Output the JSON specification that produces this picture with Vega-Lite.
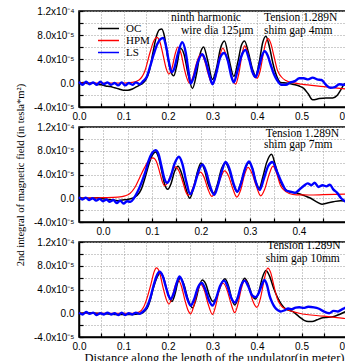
{
"$schema":"https://vega.github.io/schema/vega-lite/v6.json",
"background":"white",
"padding":{"left":14,"top":5,"right":0,"bottom":0},
"config":{
 "view":{"stroke":"black","strokeWidth":1.5},
 "concat":{"spacing":20},
 "axis":{"domainColor":"black","domainWidth":1.5,"tickColor":"black","tickWidth":1.2,"tickSize":-4,"grid":true,"gridColor":"#9a9a9a","gridDash":[1,2],"gridWidth":1,"labelFont":"Liberation Sans","labelFontSize":10,"labelColor":"black","labelFlush":false,"labelOverlap":false,"titleFont":"Liberation Serif","titleFontWeight":"normal","titleColor":"black"}
},
"bounds":"flush",
"resolve":{"legend":{"color":"independent"}},
"data":{"values":[
{"panel":1,"series":"OC","x":0,"y":0},{"panel":1,"series":"OC","x":0.01,"y":0.1e-5},{"panel":1,"series":"OC","x":0.02,"y":-0.1e-5},{"panel":1,"series":"OC","x":0.03,"y":0},{"panel":1,"series":"OC","x":0.04,"y":-0.2e-5},{"panel":1,"series":"OC","x":0.05,"y":-0.3e-5},{"panel":1,"series":"OC","x":0.06,"y":-0.5e-5},{"panel":1,"series":"OC","x":0.07,"y":-0.6e-5},{"panel":1,"series":"OC","x":0.08,"y":-0.8e-5},{"panel":1,"series":"OC","x":0.09,"y":-1.0e-5},{"panel":1,"series":"OC","x":0.1,"y":-1.2e-5},{"panel":1,"series":"OC","x":0.11,"y":-1.2e-5},{"panel":1,"series":"OC","x":0.12,"y":-1.0e-5},{"panel":1,"series":"OC","x":0.13,"y":-0.6e-5},{"panel":1,"series":"OC","x":0.14,"y":-0.2e-5},{"panel":1,"series":"OC","x":0.15,"y":0.5e-5},{"panel":1,"series":"OC","x":0.158,"y":2.0e-5},{"panel":1,"series":"OC","x":0.166,"y":5.0e-5},{"panel":1,"series":"OC","x":0.174,"y":7.8e-5},{"panel":1,"series":"OC","x":0.181,"y":8.9e-5},{"panel":1,"series":"OC","x":0.186,"y":9.0e-5},{"panel":1,"series":"OC","x":0.192,"y":7.8e-5},{"panel":1,"series":"OC","x":0.199,"y":4.5e-5},{"panel":1,"series":"OC","x":0.206,"y":2.0e-5},{"panel":1,"series":"OC","x":0.213,"y":1.2e-5},{"panel":1,"series":"OC","x":0.22,"y":3.0e-5},{"panel":1,"series":"OC","x":0.228,"y":5.8e-5},{"panel":1,"series":"OC","x":0.236,"y":4.8e-5},{"panel":1,"series":"OC","x":0.245,"y":1.5e-5},{"panel":1,"series":"OC","x":0.255,"y":-0.9e-5},{"panel":1,"series":"OC","x":0.264,"y":1.5e-5},{"panel":1,"series":"OC","x":0.272,"y":4.8e-5},{"panel":1,"series":"OC","x":0.28,"y":6.0e-5},{"panel":1,"series":"OC","x":0.289,"y":3.8e-5},{"panel":1,"series":"OC","x":0.3,"y":0.6e-5},{"panel":1,"series":"OC","x":0.309,"y":2.5e-5},{"panel":1,"series":"OC","x":0.318,"y":5.8e-5},{"panel":1,"series":"OC","x":0.327,"y":7.0e-5},{"panel":1,"series":"OC","x":0.337,"y":4.0e-5},{"panel":1,"series":"OC","x":0.348,"y":1.1e-5},{"panel":1,"series":"OC","x":0.357,"y":3.5e-5},{"panel":1,"series":"OC","x":0.365,"y":6.3e-5},{"panel":1,"series":"OC","x":0.372,"y":7.0e-5},{"panel":1,"series":"OC","x":0.381,"y":5.0e-5},{"panel":1,"series":"OC","x":0.39,"y":2.3e-5},{"panel":1,"series":"OC","x":0.397,"y":1.2e-5},{"panel":1,"series":"OC","x":0.405,"y":3.5e-5},{"panel":1,"series":"OC","x":0.413,"y":6.8e-5},{"panel":1,"series":"OC","x":0.42,"y":7.8e-5},{"panel":1,"series":"OC","x":0.428,"y":6.0e-5},{"panel":1,"series":"OC","x":0.436,"y":3.2e-5},{"panel":1,"series":"OC","x":0.444,"y":1.2e-5},{"panel":1,"series":"OC","x":0.453,"y":0.1e-5},{"panel":1,"series":"OC","x":0.465,"y":0},{"panel":1,"series":"OC","x":0.48,"y":-0.2e-5},{"panel":1,"series":"OC","x":0.495,"y":-0.5e-5},{"panel":1,"series":"OC","x":0.505,"y":-0.9e-5},{"panel":1,"series":"OC","x":0.515,"y":-1.8e-5},{"panel":1,"series":"OC","x":0.525,"y":-2.8e-5},{"panel":1,"series":"OC","x":0.54,"y":-2.6e-5},{"panel":1,"series":"OC","x":0.555,"y":-2.5e-5},{"panel":1,"series":"OC","x":0.57,"y":-2.5e-5},{"panel":1,"series":"OC","x":0.58,"y":-2.1e-5},{"panel":1,"series":"OC","x":0.588,"y":-1.2e-5},{"panel":1,"series":"OC","x":0.595,"y":-0.3e-5},{"panel":1,"series":"OC","x":0.6,"y":0},
{"panel":1,"series":"HPM","x":0,"y":0},{"panel":1,"series":"HPM","x":0.05,"y":0},{"panel":1,"series":"HPM","x":0.1,"y":0},{"panel":1,"series":"HPM","x":0.12,"y":0.1e-5},{"panel":1,"series":"HPM","x":0.135,"y":0.5e-5},{"panel":1,"series":"HPM","x":0.148,"y":2.0e-5},{"panel":1,"series":"HPM","x":0.16,"y":5.2e-5},{"panel":1,"series":"HPM","x":0.168,"y":7.0e-5},{"panel":1,"series":"HPM","x":0.175,"y":7.6e-5},{"panel":1,"series":"HPM","x":0.182,"y":6.8e-5},{"panel":1,"series":"HPM","x":0.19,"y":4.3e-5},{"panel":1,"series":"HPM","x":0.196,"y":2.4e-5},{"panel":1,"series":"HPM","x":0.202,"y":1.5e-5},{"panel":1,"series":"HPM","x":0.209,"y":2.5e-5},{"panel":1,"series":"HPM","x":0.216,"y":4.8e-5},{"panel":1,"series":"HPM","x":0.222,"y":6.0e-5},{"panel":1,"series":"HPM","x":0.229,"y":5.0e-5},{"panel":1,"series":"HPM","x":0.236,"y":2.6e-5},{"panel":1,"series":"HPM","x":0.242,"y":0.9e-5},{"panel":1,"series":"HPM","x":0.248,"y":0},{"panel":1,"series":"HPM","x":0.255,"y":0.8e-5},{"panel":1,"series":"HPM","x":0.263,"y":3.0e-5},{"panel":1,"series":"HPM","x":0.27,"y":4.5e-5},{"panel":1,"series":"HPM","x":0.275,"y":4.8e-5},{"panel":1,"series":"HPM","x":0.282,"y":3.8e-5},{"panel":1,"series":"HPM","x":0.29,"y":1.6e-5},{"panel":1,"series":"HPM","x":0.3,"y":-0.2e-5},{"panel":1,"series":"HPM","x":0.307,"y":1.0e-5},{"panel":1,"series":"HPM","x":0.315,"y":4.0e-5},{"panel":1,"series":"HPM","x":0.323,"y":5.8e-5},{"panel":1,"series":"HPM","x":0.33,"y":4.8e-5},{"panel":1,"series":"HPM","x":0.338,"y":2.5e-5},{"panel":1,"series":"HPM","x":0.345,"y":0.6e-5},{"panel":1,"series":"HPM","x":0.352,"y":-0.2e-5},{"panel":1,"series":"HPM","x":0.359,"y":1.5e-5},{"panel":1,"series":"HPM","x":0.367,"y":5.0e-5},{"panel":1,"series":"HPM","x":0.372,"y":6.2e-5},{"panel":1,"series":"HPM","x":0.378,"y":5.3e-5},{"panel":1,"series":"HPM","x":0.386,"y":2.8e-5},{"panel":1,"series":"HPM","x":0.393,"y":1.2e-5},{"panel":1,"series":"HPM","x":0.4,"y":0.8e-5},{"panel":1,"series":"HPM","x":0.407,"y":2.0e-5},{"panel":1,"series":"HPM","x":0.414,"y":4.8e-5},{"panel":1,"series":"HPM","x":0.42,"y":6.8e-5},{"panel":1,"series":"HPM","x":0.425,"y":7.4e-5},{"panel":1,"series":"HPM","x":0.431,"y":6.6e-5},{"panel":1,"series":"HPM","x":0.438,"y":4.5e-5},{"panel":1,"series":"HPM","x":0.446,"y":2.1e-5},{"panel":1,"series":"HPM","x":0.455,"y":1.0e-5},{"panel":1,"series":"HPM","x":0.465,"y":0.4e-5},{"panel":1,"series":"HPM","x":0.48,"y":0.05e-5},{"panel":1,"series":"HPM","x":0.5,"y":-0.2e-5},{"panel":1,"series":"HPM","x":0.55,"y":-0.6e-5},{"panel":1,"series":"HPM","x":0.6,"y":-1.0e-5},
{"panel":1,"series":"LS","x":0,"y":0.2e-5},{"panel":1,"series":"LS","x":0.008,"y":-0.3e-5},{"panel":1,"series":"LS","x":0.016,"y":0.2e-5},{"panel":1,"series":"LS","x":0.024,"y":-0.2e-5},{"panel":1,"series":"LS","x":0.032,"y":0.1e-5},{"panel":1,"series":"LS","x":0.04,"y":-0.3e-5},{"panel":1,"series":"LS","x":0.048,"y":0.2e-5},{"panel":1,"series":"LS","x":0.056,"y":-0.2e-5},{"panel":1,"series":"LS","x":0.064,"y":0.1e-5},{"panel":1,"series":"LS","x":0.072,"y":-0.3e-5},{"panel":1,"series":"LS","x":0.08,"y":0},{"panel":1,"series":"LS","x":0.088,"y":-0.4e-5},{"panel":1,"series":"LS","x":0.096,"y":0.1e-5},{"panel":1,"series":"LS","x":0.104,"y":-0.4e-5},{"panel":1,"series":"LS","x":0.112,"y":0},{"panel":1,"series":"LS","x":0.12,"y":-0.3e-5},{"panel":1,"series":"LS","x":0.128,"y":0.1e-5},{"panel":1,"series":"LS","x":0.136,"y":-0.2e-5},{"panel":1,"series":"LS","x":0.144,"y":0.3e-5},{"panel":1,"series":"LS","x":0.152,"y":1.0e-5},{"panel":1,"series":"LS","x":0.16,"y":2.8e-5},{"panel":1,"series":"LS","x":0.168,"y":4.8e-5},{"panel":1,"series":"LS","x":0.176,"y":6.5e-5},{"panel":1,"series":"LS","x":0.183,"y":7.3e-5},{"panel":1,"series":"LS","x":0.189,"y":7.5e-5},{"panel":1,"series":"LS","x":0.196,"y":6.0e-5},{"panel":1,"series":"LS","x":0.202,"y":3.5e-5},{"panel":1,"series":"LS","x":0.208,"y":1.8e-5},{"panel":1,"series":"LS","x":0.214,"y":2.4e-5},{"panel":1,"series":"LS","x":0.222,"y":4.8e-5},{"panel":1,"series":"LS","x":0.232,"y":6.8e-5},{"panel":1,"series":"LS","x":0.24,"y":5.0e-5},{"panel":1,"series":"LS","x":0.246,"y":2.0e-5},{"panel":1,"series":"LS","x":0.251,"y":-0.1e-5},{"panel":1,"series":"LS","x":0.258,"y":1.0e-5},{"panel":1,"series":"LS","x":0.267,"y":3.5e-5},{"panel":1,"series":"LS","x":0.277,"y":4.8e-5},{"panel":1,"series":"LS","x":0.286,"y":3.3e-5},{"panel":1,"series":"LS","x":0.294,"y":1.0e-5},{"panel":1,"series":"LS","x":0.3,"y":-0.2e-5},{"panel":1,"series":"LS","x":0.308,"y":1.5e-5},{"panel":1,"series":"LS","x":0.317,"y":4.2e-5},{"panel":1,"series":"LS","x":0.326,"y":5.0e-5},{"panel":1,"series":"LS","x":0.335,"y":3.6e-5},{"panel":1,"series":"LS","x":0.342,"y":1.2e-5},{"panel":1,"series":"LS","x":0.348,"y":0.1e-5},{"panel":1,"series":"LS","x":0.356,"y":2.0e-5},{"panel":1,"series":"LS","x":0.365,"y":4.5e-5},{"panel":1,"series":"LS","x":0.374,"y":5.5e-5},{"panel":1,"series":"LS","x":0.382,"y":4.0e-5},{"panel":1,"series":"LS","x":0.39,"y":1.8e-5},{"panel":1,"series":"LS","x":0.397,"y":1.0e-5},{"panel":1,"series":"LS","x":0.404,"y":2.5e-5},{"panel":1,"series":"LS","x":0.411,"y":4.5e-5},{"panel":1,"series":"LS","x":0.417,"y":5.3e-5},{"panel":1,"series":"LS","x":0.424,"y":4.6e-5},{"panel":1,"series":"LS","x":0.431,"y":3.0e-5},{"panel":1,"series":"LS","x":0.438,"y":1.5e-5},{"panel":1,"series":"LS","x":0.445,"y":0.5e-5},{"panel":1,"series":"LS","x":0.455,"y":-0.3e-5},{"panel":1,"series":"LS","x":0.465,"y":-0.3e-5},{"panel":1,"series":"LS","x":0.475,"y":0.1e-5},{"panel":1,"series":"LS","x":0.485,"y":0.3e-5},{"panel":1,"series":"LS","x":0.495,"y":0.8e-5},{"panel":1,"series":"LS","x":0.505,"y":0.8e-5},{"panel":1,"series":"LS","x":0.515,"y":0.6e-5},{"panel":1,"series":"LS","x":0.525,"y":0.9e-5},{"panel":1,"series":"LS","x":0.535,"y":0.6e-5},{"panel":1,"series":"LS","x":0.545,"y":0.5e-5},{"panel":1,"series":"LS","x":0.555,"y":-0.3e-5},{"panel":1,"series":"LS","x":0.565,"y":-0.8e-5},{"panel":1,"series":"LS","x":0.575,"y":-0.7e-5},{"panel":1,"series":"LS","x":0.585,"y":-0.2e-5},{"panel":1,"series":"LS","x":0.595,"y":-0.3e-5},{"panel":1,"series":"LS","x":0.6,"y":-0.2e-5},
{"panel":2,"series":"OC","x":-0.049,"y":0.1e-5},{"panel":2,"series":"OC","x":-0.03,"y":0},{"panel":2,"series":"OC","x":-0.01,"y":0.1e-5},{"panel":2,"series":"OC","x":0,"y":-0.1e-5},{"panel":2,"series":"OC","x":0.01,"y":-0.2e-5},{"panel":2,"series":"OC","x":0.02,"y":-0.3e-5},{"panel":2,"series":"OC","x":0.03,"y":-0.4e-5},{"panel":2,"series":"OC","x":0.04,"y":-0.3e-5},{"panel":2,"series":"OC","x":0.05,"y":-0.2e-5},{"panel":2,"series":"OC","x":0.06,"y":0},{"panel":2,"series":"OC","x":0.07,"y":0.5e-5},{"panel":2,"series":"OC","x":0.078,"y":1.5e-5},{"panel":2,"series":"OC","x":0.086,"y":3.5e-5},{"panel":2,"series":"OC","x":0.094,"y":5.8e-5},{"panel":2,"series":"OC","x":0.101,"y":7.3e-5},{"panel":2,"series":"OC","x":0.107,"y":7.8e-5},{"panel":2,"series":"OC","x":0.113,"y":7.0e-5},{"panel":2,"series":"OC","x":0.12,"y":4.5e-5},{"panel":2,"series":"OC","x":0.126,"y":2.3e-5},{"panel":2,"series":"OC","x":0.132,"y":1.5e-5},{"panel":2,"series":"OC","x":0.139,"y":2.5e-5},{"panel":2,"series":"OC","x":0.146,"y":4.5e-5},{"panel":2,"series":"OC","x":0.153,"y":5.4e-5},{"panel":2,"series":"OC","x":0.16,"y":4.3e-5},{"panel":2,"series":"OC","x":0.168,"y":2.0e-5},{"panel":2,"series":"OC","x":0.177,"y":0},{"panel":2,"series":"OC","x":0.185,"y":1.8e-5},{"panel":2,"series":"OC","x":0.193,"y":4.5e-5},{"panel":2,"series":"OC","x":0.2,"y":5.95e-5},{"panel":2,"series":"OC","x":0.207,"y":4.8e-5},{"panel":2,"series":"OC","x":0.215,"y":2.3e-5},{"panel":2,"series":"OC","x":0.226,"y":0.85e-5},{"panel":2,"series":"OC","x":0.234,"y":2.5e-5},{"panel":2,"series":"OC","x":0.242,"y":5.0e-5},{"panel":2,"series":"OC","x":0.25,"y":5.95e-5},{"panel":2,"series":"OC","x":0.258,"y":4.6e-5},{"panel":2,"series":"OC","x":0.266,"y":2.3e-5},{"panel":2,"series":"OC","x":0.274,"y":1.1e-5},{"panel":2,"series":"OC","x":0.282,"y":2.8e-5},{"panel":2,"series":"OC","x":0.29,"y":5.0e-5},{"panel":2,"series":"OC","x":0.298,"y":6.0e-5},{"panel":2,"series":"OC","x":0.305,"y":5.0e-5},{"panel":2,"series":"OC","x":0.312,"y":2.8e-5},{"panel":2,"series":"OC","x":0.319,"y":1.7e-5},{"panel":2,"series":"OC","x":0.326,"y":3.5e-5},{"panel":2,"series":"OC","x":0.334,"y":6.0e-5},{"panel":2,"series":"OC","x":0.344,"y":7.4e-5},{"panel":2,"series":"OC","x":0.352,"y":5.5e-5},{"panel":2,"series":"OC","x":0.362,"y":2.8e-5},{"panel":2,"series":"OC","x":0.372,"y":1.5e-5},{"panel":2,"series":"OC","x":0.38,"y":1.1e-5},{"panel":2,"series":"OC","x":0.397,"y":0.85e-5},{"panel":2,"series":"OC","x":0.412,"y":0.4e-5},{"panel":2,"series":"OC","x":0.424,"y":0},{"panel":2,"series":"OC","x":0.436,"y":-0.6e-5},{"panel":2,"series":"OC","x":0.447,"y":-1.0e-5},{"panel":2,"series":"OC","x":0.458,"y":-0.8e-5},{"panel":2,"series":"OC","x":0.47,"y":-0.6e-5},{"panel":2,"series":"OC","x":0.485,"y":-0.4e-5},{"panel":2,"series":"OC","x":0.496,"y":-0.5e-5},
{"panel":2,"series":"HPM","x":-0.049,"y":0},{"panel":2,"series":"HPM","x":0,"y":0.1e-5},{"panel":2,"series":"HPM","x":0.03,"y":0.2e-5},{"panel":2,"series":"HPM","x":0.045,"y":0.4e-5},{"panel":2,"series":"HPM","x":0.055,"y":0.8e-5},{"panel":2,"series":"HPM","x":0.065,"y":1.8e-5},{"panel":2,"series":"HPM","x":0.075,"y":3.5e-5},{"panel":2,"series":"HPM","x":0.085,"y":5.2e-5},{"panel":2,"series":"HPM","x":0.094,"y":6.4e-5},{"panel":2,"series":"HPM","x":0.102,"y":6.8e-5},{"panel":2,"series":"HPM","x":0.109,"y":6.2e-5},{"panel":2,"series":"HPM","x":0.116,"y":4.3e-5},{"panel":2,"series":"HPM","x":0.121,"y":2.8e-5},{"panel":2,"series":"HPM","x":0.126,"y":2.1e-5},{"panel":2,"series":"HPM","x":0.132,"y":2.6e-5},{"panel":2,"series":"HPM","x":0.14,"y":4.3e-5},{"panel":2,"series":"HPM","x":0.148,"y":5.3e-5},{"panel":2,"series":"HPM","x":0.155,"y":4.6e-5},{"panel":2,"series":"HPM","x":0.163,"y":2.7e-5},{"panel":2,"series":"HPM","x":0.169,"y":1.1e-5},{"panel":2,"series":"HPM","x":0.174,"y":0.5e-5},{"panel":2,"series":"HPM","x":0.18,"y":1.0e-5},{"panel":2,"series":"HPM","x":0.188,"y":2.8e-5},{"panel":2,"series":"HPM","x":0.199,"y":4.4e-5},{"panel":2,"series":"HPM","x":0.206,"y":3.6e-5},{"panel":2,"series":"HPM","x":0.214,"y":1.6e-5},{"panel":2,"series":"HPM","x":0.222,"y":0.3e-5},{"panel":2,"series":"HPM","x":0.23,"y":1.2e-5},{"panel":2,"series":"HPM","x":0.24,"y":3.4e-5},{"panel":2,"series":"HPM","x":0.248,"y":4.6e-5},{"panel":2,"series":"HPM","x":0.256,"y":3.8e-5},{"panel":2,"series":"HPM","x":0.265,"y":1.6e-5},{"panel":2,"series":"HPM","x":0.273,"y":0.2e-5},{"panel":2,"series":"HPM","x":0.281,"y":1.4e-5},{"panel":2,"series":"HPM","x":0.289,"y":4.0e-5},{"panel":2,"series":"HPM","x":0.296,"y":5.2e-5},{"panel":2,"series":"HPM","x":0.304,"y":4.2e-5},{"panel":2,"series":"HPM","x":0.313,"y":2.0e-5},{"panel":2,"series":"HPM","x":0.322,"y":0.4e-5},{"panel":2,"series":"HPM","x":0.33,"y":1.5e-5},{"panel":2,"series":"HPM","x":0.339,"y":4.0e-5},{"panel":2,"series":"HPM","x":0.347,"y":5.4e-5},{"panel":2,"series":"HPM","x":0.354,"y":4.3e-5},{"panel":2,"series":"HPM","x":0.362,"y":2.2e-5},{"panel":2,"series":"HPM","x":0.369,"y":1.4e-5},{"panel":2,"series":"HPM","x":0.38,"y":0.8e-5},{"panel":2,"series":"HPM","x":0.395,"y":0.56e-5},{"panel":2,"series":"HPM","x":0.42,"y":0.55e-5},{"panel":2,"series":"HPM","x":0.45,"y":0.6e-5},{"panel":2,"series":"HPM","x":0.496,"y":0.7e-5},
{"panel":2,"series":"LS","x":-0.049,"y":0.2e-5},{"panel":2,"series":"LS","x":-0.042,"y":-0.2e-5},{"panel":2,"series":"LS","x":-0.035,"y":0.1e-5},{"panel":2,"series":"LS","x":-0.028,"y":-0.3e-5},{"panel":2,"series":"LS","x":-0.021,"y":0},{"panel":2,"series":"LS","x":-0.014,"y":-0.4e-5},{"panel":2,"series":"LS","x":-0.007,"y":-0.1e-5},{"panel":2,"series":"LS","x":0,"y":-0.5e-5},{"panel":2,"series":"LS","x":0.007,"y":-0.2e-5},{"panel":2,"series":"LS","x":0.014,"y":-0.6e-5},{"panel":2,"series":"LS","x":0.021,"y":-0.3e-5},{"panel":2,"series":"LS","x":0.028,"y":-0.8e-5},{"panel":2,"series":"LS","x":0.035,"y":-0.4e-5},{"panel":2,"series":"LS","x":0.042,"y":-0.9e-5},{"panel":2,"series":"LS","x":0.049,"y":-0.5e-5},{"panel":2,"series":"LS","x":0.056,"y":-0.6e-5},{"panel":2,"series":"LS","x":0.063,"y":0},{"panel":2,"series":"LS","x":0.07,"y":1.0e-5},{"panel":2,"series":"LS","x":0.078,"y":2.5e-5},{"panel":2,"series":"LS","x":0.086,"y":4.3e-5},{"panel":2,"series":"LS","x":0.093,"y":6.3e-5},{"panel":2,"series":"LS","x":0.1,"y":7.6e-5},{"panel":2,"series":"LS","x":0.107,"y":8.1e-5},{"panel":2,"series":"LS","x":0.113,"y":7.5e-5},{"panel":2,"series":"LS","x":0.119,"y":5.5e-5},{"panel":2,"series":"LS","x":0.125,"y":3.4e-5},{"panel":2,"series":"LS","x":0.131,"y":2.6e-5},{"panel":2,"series":"LS","x":0.138,"y":3.6e-5},{"panel":2,"series":"LS","x":0.146,"y":5.8e-5},{"panel":2,"series":"LS","x":0.155,"y":7.0e-5},{"panel":2,"series":"LS","x":0.162,"y":5.8e-5},{"panel":2,"series":"LS","x":0.17,"y":2.8e-5},{"panel":2,"series":"LS","x":0.178,"y":0.7e-5},{"panel":2,"series":"LS","x":0.186,"y":2.0e-5},{"panel":2,"series":"LS","x":0.194,"y":4.3e-5},{"panel":2,"series":"LS","x":0.203,"y":5.7e-5},{"panel":2,"series":"LS","x":0.21,"y":4.6e-5},{"panel":2,"series":"LS","x":0.218,"y":2.2e-5},{"panel":2,"series":"LS","x":0.227,"y":0.6e-5},{"panel":2,"series":"LS","x":0.235,"y":2.3e-5},{"panel":2,"series":"LS","x":0.243,"y":4.7e-5},{"panel":2,"series":"LS","x":0.25,"y":6.1e-5},{"panel":2,"series":"LS","x":0.258,"y":5.0e-5},{"panel":2,"series":"LS","x":0.266,"y":2.6e-5},{"panel":2,"series":"LS","x":0.274,"y":1.1e-5},{"panel":2,"series":"LS","x":0.282,"y":2.6e-5},{"panel":2,"series":"LS","x":0.29,"y":5.0e-5},{"panel":2,"series":"LS","x":0.298,"y":6.2e-5},{"panel":2,"series":"LS","x":0.305,"y":5.0e-5},{"panel":2,"series":"LS","x":0.312,"y":2.7e-5},{"panel":2,"series":"LS","x":0.32,"y":1.4e-5},{"panel":2,"series":"LS","x":0.328,"y":3.2e-5},{"panel":2,"series":"LS","x":0.337,"y":5.4e-5},{"panel":2,"series":"LS","x":0.346,"y":6.1e-5},{"panel":2,"series":"LS","x":0.355,"y":4.5e-5},{"panel":2,"series":"LS","x":0.365,"y":2.6e-5},{"panel":2,"series":"LS","x":0.374,"y":1.3e-5},{"panel":2,"series":"LS","x":0.383,"y":1.1e-5},{"panel":2,"series":"LS","x":0.392,"y":0.9e-5},{"panel":2,"series":"LS","x":0.4,"y":1.4e-5},{"panel":2,"series":"LS","x":0.41,"y":2.1e-5},{"panel":2,"series":"LS","x":0.418,"y":2.5e-5},{"panel":2,"series":"LS","x":0.425,"y":2.2e-5},{"panel":2,"series":"LS","x":0.432,"y":2.6e-5},{"panel":2,"series":"LS","x":0.44,"y":1.9e-5},{"panel":2,"series":"LS","x":0.448,"y":2.2e-5},{"panel":2,"series":"LS","x":0.456,"y":2.0e-5},{"panel":2,"series":"LS","x":0.463,"y":2.3e-5},{"panel":2,"series":"LS","x":0.47,"y":1.5e-5},{"panel":2,"series":"LS","x":0.478,"y":0.9e-5},{"panel":2,"series":"LS","x":0.486,"y":0},{"panel":2,"series":"LS","x":0.496,"y":-0.6e-5},
{"panel":3,"series":"OC","x":0,"y":0},{"panel":3,"series":"OC","x":0.02,"y":0.1e-5},{"panel":3,"series":"OC","x":0.04,"y":0},{"panel":3,"series":"OC","x":0.06,"y":-0.1e-5},{"panel":3,"series":"OC","x":0.08,"y":-0.2e-5},{"panel":3,"series":"OC","x":0.1,"y":-0.2e-5},{"panel":3,"series":"OC","x":0.12,"y":-0.2e-5},{"panel":3,"series":"OC","x":0.135,"y":-0.1e-5},{"panel":3,"series":"OC","x":0.145,"y":0.2e-5},{"panel":3,"series":"OC","x":0.153,"y":0.8e-5},{"panel":3,"series":"OC","x":0.16,"y":2.2e-5},{"panel":3,"series":"OC","x":0.167,"y":4.2e-5},{"panel":3,"series":"OC","x":0.175,"y":6.0e-5},{"panel":3,"series":"OC","x":0.183,"y":6.8e-5},{"panel":3,"series":"OC","x":0.19,"y":6.0e-5},{"panel":3,"series":"OC","x":0.197,"y":4.0e-5},{"panel":3,"series":"OC","x":0.203,"y":2.6e-5},{"panel":3,"series":"OC","x":0.209,"y":2.0e-5},{"panel":3,"series":"OC","x":0.216,"y":3.3e-5},{"panel":3,"series":"OC","x":0.222,"y":5.2e-5},{"panel":3,"series":"OC","x":0.228,"y":5.95e-5},{"panel":3,"series":"OC","x":0.236,"y":4.8e-5},{"panel":3,"series":"OC","x":0.245,"y":2.3e-5},{"panel":3,"series":"OC","x":0.255,"y":0.9e-5},{"panel":3,"series":"OC","x":0.263,"y":2.4e-5},{"panel":3,"series":"OC","x":0.27,"y":4.5e-5},{"panel":3,"series":"OC","x":0.277,"y":5.6e-5},{"panel":3,"series":"OC","x":0.285,"y":4.9e-5},{"panel":3,"series":"OC","x":0.293,"y":3.0e-5},{"panel":3,"series":"OC","x":0.301,"y":2.0e-5},{"panel":3,"series":"OC","x":0.309,"y":2.7e-5},{"panel":3,"series":"OC","x":0.318,"y":4.6e-5},{"panel":3,"series":"OC","x":0.328,"y":5.8e-5},{"panel":3,"series":"OC","x":0.336,"y":4.6e-5},{"panel":3,"series":"OC","x":0.343,"y":2.5e-5},{"panel":3,"series":"OC","x":0.35,"y":1.4e-5},{"panel":3,"series":"OC","x":0.357,"y":2.5e-5},{"panel":3,"series":"OC","x":0.364,"y":4.6e-5},{"panel":3,"series":"OC","x":0.372,"y":5.9e-5},{"panel":3,"series":"OC","x":0.38,"y":5.0e-5},{"panel":3,"series":"OC","x":0.389,"y":3.0e-5},{"panel":3,"series":"OC","x":0.397,"y":2.4e-5},{"panel":3,"series":"OC","x":0.404,"y":3.6e-5},{"panel":3,"series":"OC","x":0.412,"y":6.0e-5},{"panel":3,"series":"OC","x":0.42,"y":7.2e-5},{"panel":3,"series":"OC","x":0.428,"y":6.3e-5},{"panel":3,"series":"OC","x":0.437,"y":4.3e-5},{"panel":3,"series":"OC","x":0.446,"y":2.7e-5},{"panel":3,"series":"OC","x":0.455,"y":1.5e-5},{"panel":3,"series":"OC","x":0.465,"y":0.7e-5},{"panel":3,"series":"OC","x":0.48,"y":0.3e-5},{"panel":3,"series":"OC","x":0.495,"y":-0.6e-5},{"panel":3,"series":"OC","x":0.506,"y":-1.2e-5},{"panel":3,"series":"OC","x":0.515,"y":-1.4e-5},{"panel":3,"series":"OC","x":0.524,"y":-1.4e-5},{"panel":3,"series":"OC","x":0.535,"y":-1.1e-5},{"panel":3,"series":"OC","x":0.545,"y":-0.8e-5},{"panel":3,"series":"OC","x":0.555,"y":-0.7e-5},{"panel":3,"series":"OC","x":0.57,"y":-0.6e-5},{"panel":3,"series":"OC","x":0.585,"y":-0.2e-5},{"panel":3,"series":"OC","x":0.6,"y":0.3e-5},
{"panel":3,"series":"HPM","x":0,"y":0},{"panel":3,"series":"HPM","x":0.06,"y":0},{"panel":3,"series":"HPM","x":0.12,"y":0},{"panel":3,"series":"HPM","x":0.135,"y":0.2e-5},{"panel":3,"series":"HPM","x":0.145,"y":1.0e-5},{"panel":3,"series":"HPM","x":0.153,"y":2.6e-5},{"panel":3,"series":"HPM","x":0.162,"y":5.0e-5},{"panel":3,"series":"HPM","x":0.168,"y":6.8e-5},{"panel":3,"series":"HPM","x":0.174,"y":7.65e-5},{"panel":3,"series":"HPM","x":0.181,"y":6.9e-5},{"panel":3,"series":"HPM","x":0.188,"y":4.6e-5},{"panel":3,"series":"HPM","x":0.195,"y":2.6e-5},{"panel":3,"series":"HPM","x":0.202,"y":1.55e-5},{"panel":3,"series":"HPM","x":0.209,"y":2.6e-5},{"panel":3,"series":"HPM","x":0.216,"y":4.6e-5},{"panel":3,"series":"HPM","x":0.223,"y":5.6e-5},{"panel":3,"series":"HPM","x":0.23,"y":4.6e-5},{"panel":3,"series":"HPM","x":0.238,"y":2.2e-5},{"panel":3,"series":"HPM","x":0.245,"y":0.5e-5},{"panel":3,"series":"HPM","x":0.251,"y":-0.1e-5},{"panel":3,"series":"HPM","x":0.258,"y":1.2e-5},{"panel":3,"series":"HPM","x":0.266,"y":3.6e-5},{"panel":3,"series":"HPM","x":0.273,"y":4.9e-5},{"panel":3,"series":"HPM","x":0.281,"y":4.0e-5},{"panel":3,"series":"HPM","x":0.29,"y":1.6e-5},{"panel":3,"series":"HPM","x":0.3,"y":-0.2e-5},{"panel":3,"series":"HPM","x":0.307,"y":1.2e-5},{"panel":3,"series":"HPM","x":0.315,"y":3.8e-5},{"panel":3,"series":"HPM","x":0.324,"y":5.05e-5},{"panel":3,"series":"HPM","x":0.332,"y":4.1e-5},{"panel":3,"series":"HPM","x":0.341,"y":1.8e-5},{"panel":3,"series":"HPM","x":0.35,"y":0.1e-5},{"panel":3,"series":"HPM","x":0.357,"y":1.5e-5},{"panel":3,"series":"HPM","x":0.365,"y":4.2e-5},{"panel":3,"series":"HPM","x":0.373,"y":5.6e-5},{"panel":3,"series":"HPM","x":0.381,"y":4.6e-5},{"panel":3,"series":"HPM","x":0.39,"y":2.2e-5},{"panel":3,"series":"HPM","x":0.4,"y":1.0e-5},{"panel":3,"series":"HPM","x":0.408,"y":2.6e-5},{"panel":3,"series":"HPM","x":0.416,"y":5.6e-5},{"panel":3,"series":"HPM","x":0.424,"y":7.6e-5},{"panel":3,"series":"HPM","x":0.431,"y":6.8e-5},{"panel":3,"series":"HPM","x":0.438,"y":4.6e-5},{"panel":3,"series":"HPM","x":0.446,"y":2.4e-5},{"panel":3,"series":"HPM","x":0.455,"y":1.2e-5},{"panel":3,"series":"HPM","x":0.465,"y":0.7e-5},{"panel":3,"series":"HPM","x":0.48,"y":0.3e-5},{"panel":3,"series":"HPM","x":0.495,"y":0},{"panel":3,"series":"HPM","x":0.55,"y":-0.5e-5},{"panel":3,"series":"HPM","x":0.6,"y":-0.9e-5},
{"panel":3,"series":"LS","x":0,"y":0.1e-5},{"panel":3,"series":"LS","x":0.008,"y":-0.2e-5},{"panel":3,"series":"LS","x":0.016,"y":0.2e-5},{"panel":3,"series":"LS","x":0.024,"y":-0.1e-5},{"panel":3,"series":"LS","x":0.032,"y":0.1e-5},{"panel":3,"series":"LS","x":0.04,"y":-0.3e-5},{"panel":3,"series":"LS","x":0.048,"y":0},{"panel":3,"series":"LS","x":0.056,"y":-0.2e-5},{"panel":3,"series":"LS","x":0.064,"y":0.1e-5},{"panel":3,"series":"LS","x":0.072,"y":-0.2e-5},{"panel":3,"series":"LS","x":0.08,"y":0},{"panel":3,"series":"LS","x":0.088,"y":-0.3e-5},{"panel":3,"series":"LS","x":0.096,"y":0.1e-5},{"panel":3,"series":"LS","x":0.104,"y":-0.3e-5},{"panel":3,"series":"LS","x":0.112,"y":0},{"panel":3,"series":"LS","x":0.12,"y":-0.2e-5},{"panel":3,"series":"LS","x":0.128,"y":0.1e-5},{"panel":3,"series":"LS","x":0.136,"y":-0.1e-5},{"panel":3,"series":"LS","x":0.144,"y":0.3e-5},{"panel":3,"series":"LS","x":0.152,"y":1.0e-5},{"panel":3,"series":"LS","x":0.16,"y":2.5e-5},{"panel":3,"series":"LS","x":0.167,"y":4.5e-5},{"panel":3,"series":"LS","x":0.174,"y":6.2e-5},{"panel":3,"series":"LS","x":0.181,"y":7.0e-5},{"panel":3,"series":"LS","x":0.188,"y":6.3e-5},{"panel":3,"series":"LS","x":0.195,"y":4.5e-5},{"panel":3,"series":"LS","x":0.201,"y":3.0e-5},{"panel":3,"series":"LS","x":0.206,"y":2.4e-5},{"panel":3,"series":"LS","x":0.213,"y":3.4e-5},{"panel":3,"series":"LS","x":0.22,"y":5.2e-5},{"panel":3,"series":"LS","x":0.226,"y":6.2e-5},{"panel":3,"series":"LS","x":0.233,"y":5.2e-5},{"panel":3,"series":"LS","x":0.241,"y":3.0e-5},{"panel":3,"series":"LS","x":0.251,"y":1.3e-5},{"panel":3,"series":"LS","x":0.259,"y":2.4e-5},{"panel":3,"series":"LS","x":0.267,"y":4.3e-5},{"panel":3,"series":"LS","x":0.276,"y":5.1e-5},{"panel":3,"series":"LS","x":0.284,"y":4.0e-5},{"panel":3,"series":"LS","x":0.292,"y":2.2e-5},{"panel":3,"series":"LS","x":0.3,"y":1.3e-5},{"panel":3,"series":"LS","x":0.308,"y":2.5e-5},{"panel":3,"series":"LS","x":0.317,"y":4.6e-5},{"panel":3,"series":"LS","x":0.326,"y":5.5e-5},{"panel":3,"series":"LS","x":0.334,"y":4.5e-5},{"panel":3,"series":"LS","x":0.342,"y":2.6e-5},{"panel":3,"series":"LS","x":0.35,"y":1.8e-5},{"panel":3,"series":"LS","x":0.357,"y":2.7e-5},{"panel":3,"series":"LS","x":0.364,"y":4.6e-5},{"panel":3,"series":"LS","x":0.372,"y":5.5e-5},{"panel":3,"series":"LS","x":0.38,"y":4.6e-5},{"panel":3,"series":"LS","x":0.389,"y":3.0e-5},{"panel":3,"series":"LS","x":0.397,"y":2.7e-5},{"panel":3,"series":"LS","x":0.404,"y":3.4e-5},{"panel":3,"series":"LS","x":0.411,"y":4.8e-5},{"panel":3,"series":"LS","x":0.417,"y":5.6e-5},{"panel":3,"series":"LS","x":0.423,"y":4.6e-5},{"panel":3,"series":"LS","x":0.428,"y":3.0e-5},{"panel":3,"series":"LS","x":0.434,"y":1.8e-5},{"panel":3,"series":"LS","x":0.44,"y":1.0e-5},{"panel":3,"series":"LS","x":0.447,"y":0.5e-5},{"panel":3,"series":"LS","x":0.453,"y":0.3e-5},{"panel":3,"series":"LS","x":0.462,"y":0.5e-5},{"panel":3,"series":"LS","x":0.47,"y":0.8e-5},{"panel":3,"series":"LS","x":0.478,"y":0.7e-5},{"panel":3,"series":"LS","x":0.487,"y":0.95e-5},{"panel":3,"series":"LS","x":0.495,"y":1.0e-5},{"panel":3,"series":"LS","x":0.505,"y":0.9e-5},{"panel":3,"series":"LS","x":0.515,"y":1.1e-5},{"panel":3,"series":"LS","x":0.528,"y":1.0e-5},{"panel":3,"series":"LS","x":0.538,"y":0.8e-5},{"panel":3,"series":"LS","x":0.55,"y":0.3e-5},{"panel":3,"series":"LS","x":0.562,"y":0},{"panel":3,"series":"LS","x":0.572,"y":0.4e-5},{"panel":3,"series":"LS","x":0.582,"y":0.3e-5},{"panel":3,"series":"LS","x":0.592,"y":0.7e-5},{"panel":3,"series":"LS","x":0.6,"y":1.0e-5}
]},
"vconcat":[
{
 "width":267,"height":96,
 "transform":[{"filter":"datum.panel == 1"}],
 "encoding":{
  "x":{"field":"x","type":"quantitative","scale":{"domain":[0,0.6],"nice":false,"zero":false},"axis":{"values":[0,0.05,0.1,0.15,0.2,0.25,0.3,0.35,0.4,0.45,0.5,0.55,0.6],"labelExpr":"round(datum.value*100) % 10 == 0 ? format(datum.value, '.1f') : ''","title":null,"labelPadding":8}},
  "y":{"field":"y","type":"quantitative","scale":{"domain":[-4e-5,1.2e-4],"nice":false,"zero":false},"axis":{"values":[-4e-5,-2e-5,0,2e-5,4e-5,6e-5,8e-5,1e-4,1.2e-4],"labelExpr":"round(datum.value*1e5) % 4 != 0 ? '' : datum.value == 0 ? '0.0' : (datum.value < 0 ? '-' : '') + (abs(datum.value) > 9.9e-5 ? format(abs(datum.value)*1e4, '.1f') + 'x10⁻⁴' : format(abs(datum.value)*1e5, '.1f') + 'x10⁻⁵')","title":null,"labelPadding":9}}
 },
 "layer":[
  {"transform":[{"filter":"datum.series == 'OC'"}],
   "mark":{"type":"line","strokeWidth":1.5,"interpolate":"monotone"},
   "encoding":{"color":{"field":"series","type":"nominal","scale":{"domain":["OC","HPM","LS"],"range":["#000000","#ff0000","#0000ff"]},"legend":{"orient":"none","legendX":17,"legendY":12,"title":null,"symbolType":"M-1,0H5","symbolSize":49,"symbolStrokeWidth":1.5,"labelFont":"Liberation Serif","labelFontSize":11,"labelColor":"black","labelOffset":19,"rowPadding":0,"padding":0}}}},
  {"transform":[{"filter":"datum.series == 'HPM'"}],
   "mark":{"type":"line","strokeWidth":1.2,"interpolate":"monotone"},
   "encoding":{"color":{"field":"series","type":"nominal"}}},
  {"transform":[{"filter":"datum.series == 'LS'"}],
   "mark":{"type":"line","strokeWidth":2.4,"interpolate":"monotone"},
   "encoding":{"color":{"field":"series","type":"nominal"}}},
  {"data":{"values":[{"x":0.2067,"y":10.9e-5,"t":"ninth harmonic"},{"x":0.229,"y":8.7e-5,"t":"wire dia 125μm"},{"x":0.4157,"y":10.9e-5,"t":"Tension 1.289N"},{"x":0.4157,"y":8.7e-5,"t":"shim gap 4mm"}]},
   "mark":{"type":"text","align":"left","baseline":"middle","font":"Liberation Serif","fontSize":11.5,"color":"black"},
   "encoding":{"text":{"field":"t"}}}
 ]
},
{
 "width":267,"height":95,
 "transform":[{"filter":"datum.panel == 2"}],
 "encoding":{
  "x":{"field":"x","type":"quantitative","scale":{"domain":[-0.049,0.496],"nice":false,"zero":false},"axis":{"values":[0,0.05,0.1,0.15,0.2,0.25,0.3,0.35,0.4,0.45],"labelExpr":"round(datum.value*100) % 10 == 0 ? format(datum.value, '.1f') : ''","title":null,"labelPadding":8}},
  "y":{"field":"y","type":"quantitative","scale":{"domain":[-4e-5,1.2e-4],"nice":false,"zero":false},"axis":{"values":[-4e-5,-2e-5,0,2e-5,4e-5,6e-5,8e-5,1e-4,1.2e-4],"labelExpr":"round(datum.value*1e5) % 4 != 0 ? '' : datum.value == 0 ? '0.0' : (datum.value < 0 ? '-' : '') + (abs(datum.value) > 9.9e-5 ? format(abs(datum.value)*1e4, '.1f') + 'x10⁻⁴' : format(abs(datum.value)*1e5, '.1f') + 'x10⁻⁵')","title":"2nd integral of magnetic field (in tesla*m²)","titleFontSize":10.6,"titlePadding":8,"labelPadding":9}}
 },
 "layer":[
  {"transform":[{"filter":"datum.series == 'OC'"}],
   "mark":{"type":"line","strokeWidth":1.5,"interpolate":"monotone"},
   "encoding":{"color":{"field":"series","type":"nominal","legend":null}}},
  {"transform":[{"filter":"datum.series == 'HPM'"}],
   "mark":{"type":"line","strokeWidth":1.2,"interpolate":"monotone"},
   "encoding":{"color":{"field":"series","type":"nominal","legend":null}}},
  {"transform":[{"filter":"datum.series == 'LS'"}],
   "mark":{"type":"line","strokeWidth":2.4,"interpolate":"monotone"},
   "encoding":{"color":{"field":"series","type":"nominal","legend":null}}},
  {"data":{"values":[{"x":0.332,"y":10.9e-5,"t":"Tension 1.289N"},{"x":0.3286,"y":8.9e-5,"t":"shim gap 7mm"}]},
   "mark":{"type":"text","align":"left","baseline":"middle","font":"Liberation Serif","fontSize":11.5,"color":"black"},
   "encoding":{"text":{"field":"t"}}}
 ]
},
{
 "width":267,"height":95,
 "transform":[{"filter":"datum.panel == 3"}],
 "encoding":{
  "x":{"field":"x","type":"quantitative","scale":{"domain":[0,0.6],"nice":false,"zero":false},"axis":{"values":[0,0.05,0.1,0.15,0.2,0.25,0.3,0.35,0.4,0.45,0.5,0.55,0.6],"labelExpr":"round(datum.value*100) % 10 == 0 ? format(datum.value, '.1f') : ''","title":"Distance along the length of the undulator(in meter)","titleFontSize":12.5,"titleAnchor":"start","titleAlign":"left","titleX":5,"titlePadding":0,"labelPadding":8}},
  "y":{"field":"y","type":"quantitative","scale":{"domain":[-4e-5,1.2e-4],"nice":false,"zero":false},"axis":{"values":[-4e-5,-2e-5,0,2e-5,4e-5,6e-5,8e-5,1e-4,1.2e-4],"labelExpr":"round(datum.value*1e5) % 4 != 0 ? '' : datum.value == 0 ? '0.0' : (datum.value < 0 ? '-' : '') + (abs(datum.value) > 9.9e-5 ? format(abs(datum.value)*1e4, '.1f') + 'x10⁻⁴' : format(abs(datum.value)*1e5, '.1f') + 'x10⁻⁵')","title":null,"labelPadding":9}}
 },
 "layer":[
  {"transform":[{"filter":"datum.series == 'OC'"}],
   "mark":{"type":"line","strokeWidth":1.5,"interpolate":"monotone"},
   "encoding":{"color":{"field":"series","type":"nominal","legend":null}}},
  {"transform":[{"filter":"datum.series == 'HPM'"}],
   "mark":{"type":"line","strokeWidth":1.2,"interpolate":"monotone"},
   "encoding":{"color":{"field":"series","type":"nominal","legend":null}}},
  {"transform":[{"filter":"datum.series == 'LS'"}],
   "mark":{"type":"line","strokeWidth":2.4,"interpolate":"monotone"},
   "encoding":{"color":{"field":"series","type":"nominal","legend":null}}},
  {"data":{"values":[{"x":0.423,"y":11.3e-5,"t":"Tension 1.289N"},{"x":0.4195,"y":9.2e-5,"t":"shim gap 10mm"}]},
   "mark":{"type":"text","align":"left","baseline":"middle","font":"Liberation Serif","fontSize":11.5,"color":"black"},
   "encoding":{"text":{"field":"t"}}}
 ]
}
]
}
